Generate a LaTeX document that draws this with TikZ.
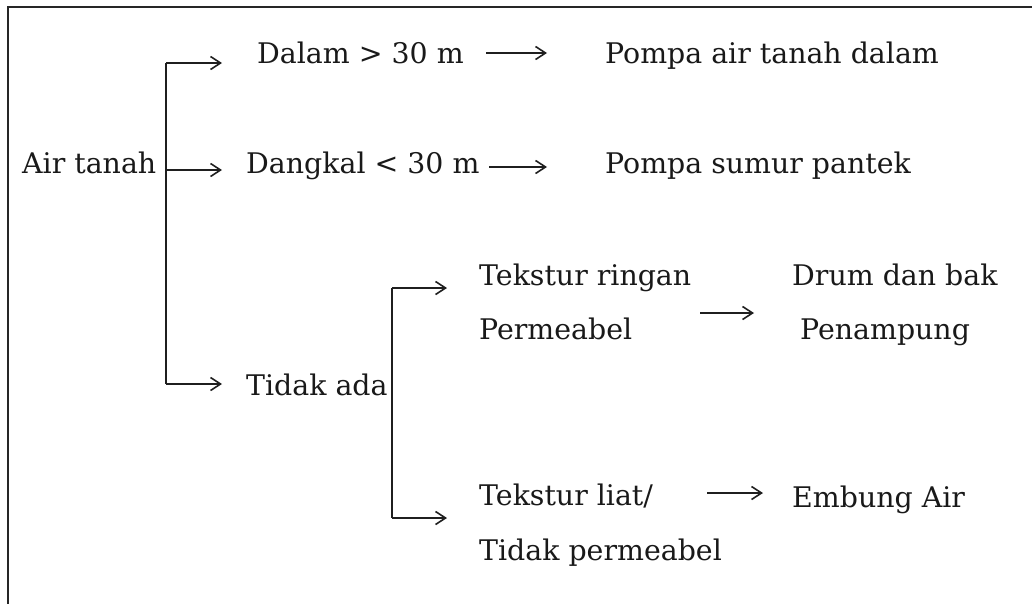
\documentclass[tikz,border=0pt]{standalone}
\usepackage{fontspec}
\setmainfont{DejaVu Serif}
\usetikzlibrary{arrows.meta}
\begin{document}
\begin{tikzpicture}[x=1pt,y=-1pt,
  lbl/.style={anchor=base west,inner sep=0pt,font=\fontsize{28.4}{32}\selectfont,text=black!90},
  conn/.style={line width=1.6pt,draw=black!88},
  arr/.style={conn,-{Straight Barb[length=10pt,width=13pt,line width=1.6pt]}}]
\useasboundingbox (0,0) rectangle (1032,603);
\draw[line width=1.6pt,black!85] (8,610) -- (8,7) -- (1040,7);
% texts
\node[lbl] (air) at (22,173) {Air tanah};
\node[lbl] (dalam) at (257,63) {Dalam {\textgreater} 30 m};
\node[lbl] (pad) at (605,63) {Pompa air tanah dalam};
\node[lbl] (dangkal) at (246,173) {Dangkal {\textless} 30 m};
\node[lbl] (psp) at (605,173) {Pompa sumur pantek};
\node[lbl] (tidak) at (246,395) {Tidak ada};
\node[lbl] (tr) at (479,285) {Tekstur ringan};
\node[lbl] (perm) at (479,339) {Permeabel};
\node[lbl] (drum) at (792,285) {Drum dan bak};
\node[lbl] (pen) at (800,339) {Penampung};
\node[lbl] (tl) at (479,505) {Tekstur liat/};
\node[lbl] (tp) at (479,560) {Tidak permeabel};
\node[lbl] (emb) at (792,507) {Embung Air};
% bracket 1
\coordinate (b1t) at (166,63);
\coordinate (b1m) at (166,170);
\coordinate (b1b) at (166,384);
\coordinate (e1t) at (222,63);
\coordinate (e1m) at (222,170);
\coordinate (e1b) at (222,384);
\draw[conn] (b1t) -- (b1b);
\draw[arr] (b1t) -- (e1t);
\draw[arr] (b1m) -- (e1m);
\draw[arr] (b1b) -- (e1b);
% bracket 2
\coordinate (b2t) at (392,288);
\coordinate (b2b) at (392,518);
\coordinate (e2t) at (447,288);
\coordinate (e2b) at (447,518);
\draw[conn] (b2t) -- (b2b);
\draw[arr] (b2t) -- (e2t);
\draw[arr] (b2b) -- (e2b);
% result arrows
\coordinate (r1s) at (486,53);
\coordinate (r1e) at (547,53);
\coordinate (r2s) at (489,167);
\coordinate (r2e) at (547,167);
\coordinate (r3s) at (700,313);
\coordinate (r3e) at (754,313);
\coordinate (r4s) at (707,493);
\coordinate (r4e) at (763,493);
\draw[arr] (r1s) -- (r1e);
\draw[arr] (r2s) -- (r2e);
\draw[arr] (r3s) -- (r3e);
\draw[arr] (r4s) -- (r4e);
\end{tikzpicture}
\end{document}
